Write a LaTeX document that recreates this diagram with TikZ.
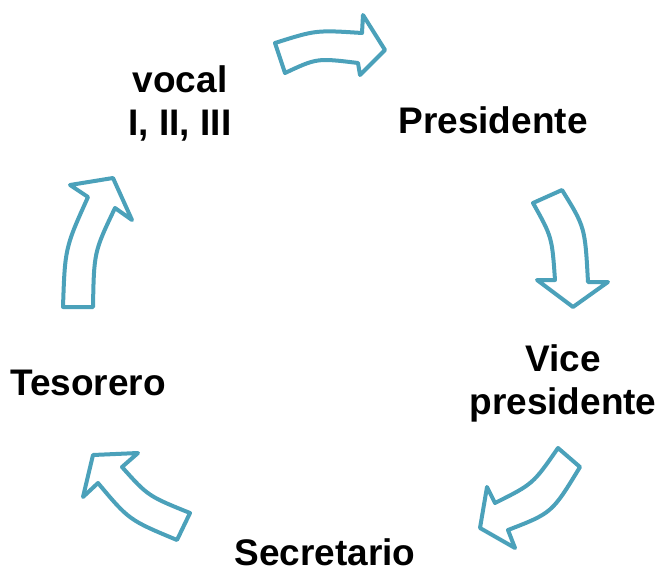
\documentclass[tikz,border=0pt]{standalone}
\usepackage{fontspec}
\setmainfont{Liberation Sans}
\begin{document}
\begin{tikzpicture}[x=1pt,y=-1pt]
\definecolor{teal1}{RGB}{75,161,186}
\tikzset{
  blockarrow/.style={draw=teal1,line width=4pt,line join=round,fill=white},
  lbl/.style={font=\bfseries\fontsize{37}{43}\selectfont,align=center,inner sep=0pt,text=black}
}
\useasboundingbox (0,0) rectangle (662,570);
% labels
\node[lbl] (vocal) at (180,103) {vocal\\I, II, III};
\node[lbl] (pres) at (493,120) {Presidente};
\node[lbl] (vice) at (563,383) {Vice\\presidente};
\node[lbl] (secr) at (325,552) {Secretario};
\node[lbl] (teso) at (88,383) {Tesorero};
% top arrow
\draw[blockarrow] (275,43) .. controls (316,30) .. (362,33) -- (363,15) -- (385,50) -- (360,75) -- (358,63) .. controls (317,58) .. (285,73) -- cycle;
% right arrow
\draw[blockarrow] (533,203) -- (562,190) .. controls (585,227) .. (588,282) -- (608,282) -- (573,307) -- (537,280) -- (555,280) .. controls (552,237) .. cycle;
% lower right arrow
\draw[blockarrow] (558,448) -- (580,467) .. controls (552,513) .. (508,530) -- (515,548) -- (480,528) -- (487,487) -- (495,503) .. controls (533,484) .. cycle;
% lower left arrow
\draw[blockarrow] (190,513) .. controls (148,496) .. (122,467) -- (138,453) -- (93,455) -- (83,497) -- (98,483) .. controls (129,520) .. (177,540) -- cycle;
% left arrow
\draw[blockarrow] (63,307) -- (93,307) .. controls (94,252) .. (115,208) -- (132,220) -- (113,178) -- (70,185) -- (88,197) .. controls (65,248) .. cycle;
\end{tikzpicture}
\end{document}
